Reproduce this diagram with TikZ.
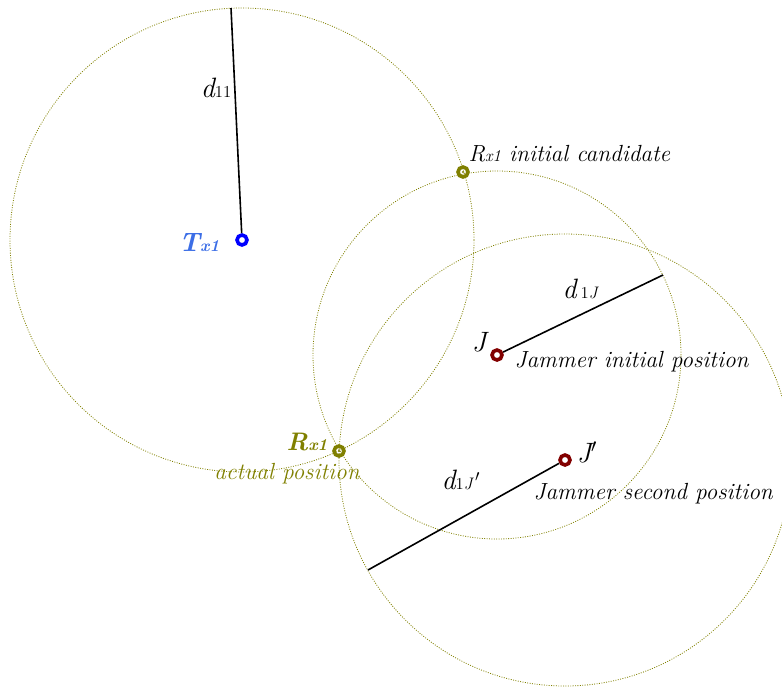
\documentclass[tikz,border=0pt]{standalone}
\usepackage{tikz}
\usetikzlibrary{positioning}
\definecolor{olivegreen}{RGB}{128,128,0}
\definecolor{darkred}{RGB}{130,0,0}
\definecolor{txblue}{RGB}{60,110,230}
\newcommand{\sm}[1]{{\fontsize{12.5}{13}\selectfont #1}}

\begin{document}
\begin{tikzpicture}[x=0.75pt, y=-0.75pt,
    rangecircle/.style={olivegreen, dash pattern=on 0.7pt off 1.1pt, line width=0.6pt},
    distline/.style={black, line width=1.2pt},
    ring/.style={circle, draw=#1, fill=white, line width=2.7pt,
        inner sep=0pt, minimum size=7.5pt},
    centredot/.style={circle, fill=olivegreen, inner sep=0pt, minimum size=1.8pt},
    lbl/.style={font=\fontsize{17.5}{20}\selectfont\itshape, inner sep=1pt}
]
    \clip (0,0) rectangle (782,686);
    % positions
    \node[ring=blue] (tx) at (242,240) {};
    \node[ring=darkred] (jam) at (497,355) {};
    \node[ring=darkred] (jam2) at (565,460) {};
    \node[ring=olivegreen] (rxc) at (463,172) {};
    \node[ring=olivegreen] (rxa) at (339,451) {};
    \node[centredot] at (rxc) {};
    \node[centredot] at (rxa) {};
    % range circles
    \draw[rangecircle] (tx.center) circle[radius=174pt];
    \draw[rangecircle] (jam.center) circle[radius=138pt];
    \draw[rangecircle] (jam2.center) circle[radius=169.5pt];
    % distances
    \coordinate (e11) at (231,8);
    \coordinate (e1j) at (663,275);
    \coordinate (e1j2) at (368,570);
    \draw[distline] (tx) -- (e11);
    \draw[distline] (jam) -- (e1j);
    \draw[distline] (jam2) -- (e1j2);
    % labels
    \node[lbl] (d11) at (216,88) {{\fontsize{21}{21}\selectfont d}\sm{\upshape 11}};
    \node[lbl, txblue, font=\fontsize{20}{22}\selectfont\bfseries\itshape, anchor=east]
        (txl) at (221,243) {T\sm{x1}};
    \node[lbl, anchor=west] (rxcl) at (467,154) {R\sm{x1} initial candidate};
    \node[lbl, olivegreen, font=\fontsize{19}{21}\selectfont\bfseries\itshape]
        (rxal) at (307,442) {R\sm{x1}};
    \node[lbl, olivegreen] (rxapos) at (287,474) {actual position};
    \node[lbl, font=\fontsize{21}{21}\selectfont\itshape] (jl) at (479,342) {J};
    \node[lbl, anchor=west] (jpos) at (513,362) {Jammer initial position};
    \node[lbl] (d1j) at (580,289) {{\fontsize{21}{21}\selectfont d}\,\sm{\upshape 1\itshape J}};
    \node[lbl, font=\fontsize{21}{21}\selectfont\itshape] (j2l) at (587,452) {J$'$};
    \node[lbl, anchor=west] (j2pos) at (532,494) {Jammer second position};
    \node[lbl] (d1j2) at (461,480) {{\fontsize{21}{21}\selectfont d}\sm{\upshape 1\itshape J\,}$'$};
\end{tikzpicture}
\end{document}
